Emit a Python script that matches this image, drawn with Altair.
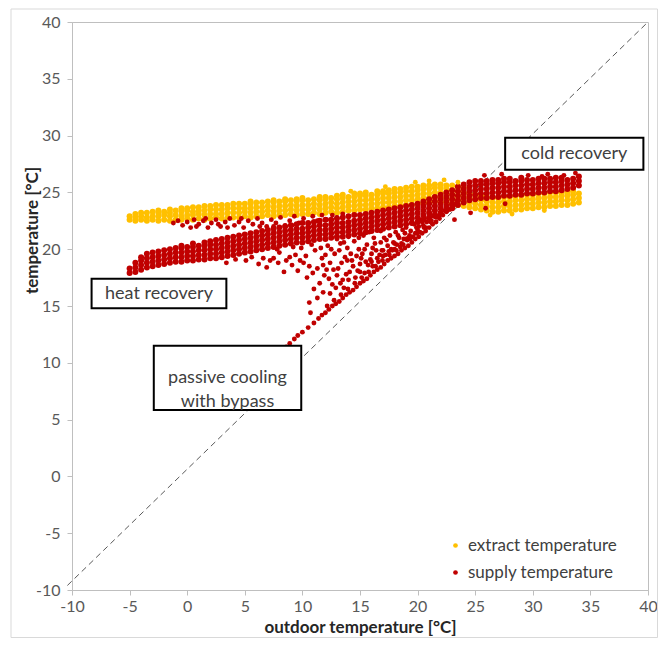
import altair as alt
import pandas as pd

# ---------------- data ----------------
series_names = ["extract temperature", "supply temperature"]
series_colors = ["#FFC000", "#C00000"]

# extract temperature, dense band: [outdoor x, y values in that column...]
extract_rows = [
    [-5.0, 22.6, 22.9], [-4.5, 22.5, 22.8, 23.1], [-4.0, 22.6, 22.9, 23.2],
    [-3.5, 22.5, 22.8, 23.2], [-3.0, 22.6, 22.9, 23.3], [-2.5, 22.5, 22.9, 23.2, 23.4],
    [-2.0, 22.6, 23.0, 23.3], [-1.5, 22.5, 22.9, 23.2, 23.5], [-1.0, 22.6, 23.0, 23.4],
    [-0.5, 22.6, 22.9, 23.3, 23.6], [0.0, 22.7, 23.0, 23.4, 23.6], [0.5, 22.6, 23.0, 23.3, 23.7],
    [1.0, 22.7, 23.1, 23.4, 23.7], [1.5, 22.6, 23.0, 23.4, 23.8], [2.0, 22.7, 23.1, 23.5, 23.8],
    [2.5, 22.8, 23.1, 23.5, 23.9], [3.0, 22.7, 23.1, 23.5, 23.9], [3.5, 22.8, 23.2, 23.6, 23.9],
    [4.0, 22.8, 23.2, 23.6, 24.0], [4.5, 22.8, 23.2, 23.6, 24.0], [5.0, 22.9, 23.3, 23.6, 24.0],
    [5.5, 22.8, 23.2, 23.6, 24.0, 24.2], [6.0, 22.9, 23.3, 23.7, 24.1], [6.5, 22.9, 23.3, 23.7, 24.1],
    [7.0, 23.0, 23.4, 23.8, 24.2], [7.5, 22.9, 23.3, 23.7, 24.1, 24.3], [8.0, 23.0, 23.4, 23.8, 24.2],
    [8.5, 23.0, 23.4, 23.8, 24.2, 24.4], [9.0, 23.1, 23.5, 23.9, 24.3], [9.5, 23.0, 23.4, 23.8, 24.2, 24.4],
    [10.0, 23.1, 23.5, 23.9, 24.3, 24.5], [10.5, 23.1, 23.5, 23.9, 24.3], [11.0, 23.2, 23.6, 24.0, 24.4],
    [11.5, 23.1, 23.5, 23.9, 24.3, 24.6], [12.0, 23.2, 23.6, 24.0, 24.4, 24.6], [12.5, 23.3, 23.7, 24.1, 24.5],
    [13.0, 23.2, 23.6, 24.0, 24.4, 24.7], [13.5, 23.3, 23.7, 24.1, 24.5, 24.8], [14.0, 23.4, 23.8, 24.2, 24.6],
    [14.5, 23.4, 23.8, 24.2, 24.6, 24.9], [15.0, 23.5, 23.9, 24.3, 24.7, 24.9], [15.5, 23.5, 23.9, 24.3, 24.7, 25.0],
    [16.0, 23.6, 24.0, 24.4, 24.8], [16.5, 23.6, 24.0, 24.4, 24.8, 25.1], [17.0, 23.7, 24.1, 24.5, 24.9, 25.1],
    [17.5, 23.7, 24.1, 24.5, 24.9, 25.2], [18.0, 23.8, 24.2, 24.6, 25.0, 25.3], [18.5, 23.8, 24.2, 24.6, 25.0, 25.3],
    [19.0, 23.9, 24.3, 24.7, 25.1, 25.4], [19.5, 23.9, 24.3, 24.7, 25.1, 25.5], [20.0, 24.0, 24.4, 24.8, 25.2, 25.5],
    [20.5, 24.1, 24.5, 24.9, 25.3, 25.6], [21.0, 24.1, 24.5, 24.9, 25.3, 25.6], [21.5, 24.2, 24.6, 25.0, 25.4, 25.7],
    [22.0, 24.2, 24.6, 25.0, 25.4, 25.7], [22.5, 24.1, 24.5, 24.9, 25.3, 25.6], [23.0, 24.0, 24.4, 24.8, 25.2, 25.6],
    [23.5, 23.9, 24.3, 24.7, 25.1, 25.5], [24.0, 23.8, 24.2, 24.6, 25.0, 25.4], [24.5, 23.7, 24.1, 24.5, 24.9],
    [25.0, 23.6, 24.0, 24.4, 24.8], [25.5, 23.5, 23.9, 24.3, 24.7], [26.0, 23.4, 23.8, 24.2, 24.6],
    [26.5, 23.3, 23.7, 24.1, 24.5], [27.0, 23.3, 23.7, 24.1, 24.5], [27.5, 23.4, 23.8, 24.2, 24.6],
    [28.0, 23.4, 23.8, 24.2, 24.6], [28.5, 23.5, 23.9, 24.3, 24.7], [29.0, 23.5, 23.9, 24.3, 24.7],
    [29.5, 23.6, 24.0, 24.4, 24.8], [30.0, 23.6, 24.0, 24.4, 24.8], [30.5, 23.7, 24.1, 24.5, 24.9],
    [31.0, 23.7, 24.1, 24.5, 24.9], [31.5, 23.8, 24.2, 24.6, 25.0], [32.0, 23.8, 24.2, 24.6, 25.0],
    [32.5, 23.9, 24.3, 24.7, 25.0], [33.0, 23.9, 24.3, 24.7, 25.0], [33.5, 24.0, 24.4, 24.8, 25.1],
    [34.0, 24.1, 24.5, 24.9],
]
extract_extra = [(14.2, 25.1), (17.2, 25.5), (19.8, 25.9), (21.0, 26.0), (22.3, 26.1),
                 (23.5, 25.9), (26.3, 23.0), (28.2, 23.1), (31.0, 23.4)]

# supply temperature, dense main band: [outdoor x, y values...]
supply_rows = [
    [-5.0, 17.9, 18.3], [-4.5, 18.0, 18.4, 18.8], [-4.0, 18.2, 18.6, 19.0, 19.3],
    [-3.5, 18.4, 18.8, 19.2, 19.6], [-3.0, 18.5, 18.9, 19.3, 19.7], [-2.5, 18.6, 19.0, 19.4, 19.8],
    [-2.0, 18.7, 19.1, 19.5, 19.9], [-1.5, 18.8, 19.2, 19.6, 20.0], [-1.0, 18.9, 19.3, 19.7, 20.1],
    [-0.5, 18.9, 19.3, 19.7, 20.1, 20.3], [0.0, 19.0, 19.4, 19.8, 20.2], [0.5, 19.0, 19.4, 19.8, 20.2, 20.5],
    [1.0, 19.1, 19.5, 19.9, 20.3], [1.5, 19.1, 19.5, 19.9, 20.3, 20.6], [2.0, 19.2, 19.6, 20.0, 20.4, 20.7],
    [2.5, 19.2, 19.6, 20.0, 20.4, 20.8], [3.0, 19.3, 19.7, 20.1, 20.5, 20.9], [3.5, 19.4, 19.8, 20.2, 20.6, 21.0],
    [4.0, 19.5, 19.9, 20.3, 20.7, 21.1], [4.5, 19.6, 20.0, 20.4, 20.8, 21.2], [5.0, 19.7, 20.1, 20.5, 20.9, 21.3],
    [5.5, 19.8, 20.2, 20.6, 21.0, 21.4], [6.0, 19.9, 20.3, 20.7, 21.1, 21.5], [6.5, 20.0, 20.4, 20.8, 21.2, 21.6],
    [7.0, 20.1, 20.5, 20.9, 21.3, 21.7], [7.5, 20.2, 20.6, 21.0, 21.4, 21.8], [8.0, 20.3, 20.7, 21.1, 21.5, 21.9],
    [8.5, 20.4, 20.8, 21.2, 21.6, 22.0], [9.0, 20.5, 20.9, 21.3, 21.7, 22.1], [9.5, 20.6, 21.0, 21.4, 21.8, 22.2],
    [10.0, 20.6, 21.0, 21.4, 21.8, 22.3], [10.5, 20.7, 21.1, 21.5, 21.9, 22.3], [11.0, 20.8, 21.2, 21.6, 22.0, 22.4],
    [11.5, 20.9, 21.3, 21.7, 22.1, 22.5], [12.0, 20.9, 21.3, 21.7, 22.1, 22.6], [12.5, 21.0, 21.4, 21.8, 22.2, 22.6],
    [13.0, 21.1, 21.5, 21.9, 22.3, 22.7], [13.5, 21.1, 21.5, 21.9, 22.3, 22.8], [14.0, 21.2, 21.6, 22.0, 22.4, 22.9],
    [14.5, 21.3, 21.7, 22.1, 22.5, 23.0], [15.0, 21.4, 21.8, 22.2, 22.6, 23.0], [15.5, 21.5, 21.9, 22.3, 22.7, 23.1],
    [16.0, 21.6, 22.0, 22.4, 22.8, 23.2], [16.5, 21.7, 22.1, 22.5, 22.9, 23.3], [17.0, 21.8, 22.2, 22.6, 23.0, 23.4],
    [17.5, 21.9, 22.3, 22.7, 23.1, 23.5], [18.0, 22.0, 22.4, 22.8, 23.2, 23.6], [18.5, 22.1, 22.5, 22.9, 23.3, 23.7],
    [19.0, 22.2, 22.6, 23.0, 23.4, 23.8], [19.5, 22.3, 22.7, 23.1, 23.5, 23.9], [20.0, 22.4, 22.8, 23.2, 23.6, 24.0],
    [20.5, 22.6, 23.0, 23.4, 23.8, 24.2], [21.0, 22.8, 23.2, 23.6, 24.0, 24.4], [21.5, 23.0, 23.4, 23.8, 24.2, 24.6],
    [22.0, 23.2, 23.6, 24.0, 24.4, 24.8], [22.5, 23.4, 23.8, 24.2, 24.6, 25.0], [23.0, 23.6, 24.0, 24.4, 24.8, 25.2],
    [23.5, 23.9, 24.3, 24.7, 25.1, 25.5], [24.0, 24.1, 24.5, 24.9, 25.3, 25.7], [24.5, 24.3, 24.7, 25.1, 25.5, 25.9],
    [25.0, 24.4, 24.8, 25.2, 25.6, 26.0], [25.5, 24.5, 24.9, 25.3, 25.7, 26.0], [26.0, 24.5, 24.9, 25.3, 25.7, 26.0],
    [26.5, 24.6, 25.0, 25.4, 25.8, 26.1], [27.0, 24.6, 25.0, 25.4, 25.8, 26.1], [27.5, 24.7, 25.1, 25.5, 25.9, 26.2],
    [28.0, 24.7, 25.1, 25.5, 25.9, 26.2], [28.5, 24.8, 25.2, 25.6, 26.0], [29.0, 24.8, 25.2, 25.6, 26.0, 26.3],
    [29.5, 24.9, 25.3, 25.7, 26.1], [30.0, 24.9, 25.3, 25.7, 26.1], [30.5, 25.0, 25.4, 25.8, 26.2],
    [31.0, 25.0, 25.4, 25.8, 26.2], [31.5, 25.1, 25.5, 25.9, 26.2], [32.0, 25.1, 25.5, 25.9, 26.3],
    [32.5, 25.2, 25.6, 26.0, 26.3], [33.0, 25.3, 25.7, 26.1], [33.5, 25.4, 25.8, 26.2],
    [34.0, 25.6, 26.0, 26.4],
]
# supply: thin dotted band just under the extract band
supply_upper = [(-1.2, 22.3), (-0.8, 22.5), (-0.4, 22.1), (0.0, 22.4), (0.3, 21.9), (0.6, 22.6),
                (1.0, 22.2), (1.4, 22.5), (1.8, 21.9), (2.1, 22.3), (2.5, 22.6), (2.9, 22.0),
                (3.3, 22.4), (3.7, 22.7), (4.1, 22.1), (4.5, 22.4), (4.9, 21.9), (5.3, 22.5),
                (5.7, 22.2), (6.1, 22.7), (6.5, 22.3), (6.9, 22.0), (7.3, 22.6), (7.7, 22.3),
                (8.1, 22.8), (8.5, 22.1), (8.9, 22.5), (9.3, 22.9), (9.7, 22.3), (10.1, 22.7),
                (10.5, 22.2), (10.9, 22.9), (11.3, 22.5), (11.7, 23.0), (12.1, 22.6), (12.6, 23.0),
                (13.0, 22.8), (13.5, 23.1), (0.8, 22.0), (1.6, 22.7), (2.7, 22.2), (3.5, 21.9),
                (4.7, 22.7), (6.3, 22.0), (7.5, 22.0), (9.1, 22.1)]
# supply: scattered points between main band and bypass line
supply_scatter = [(3.4, 18.8), (5.1, 19.0), (6.2, 18.7), (6.9, 18.4), (7.5, 19.2), (8.0, 19.7),
                  (8.4, 18.0), (8.9, 19.3), (9.4, 19.5), (9.6, 18.1), (9.9, 20.1), (10.1, 18.8),
                  (10.4, 17.5), (10.6, 15.3), (10.7, 14.4), (11.0, 16.5), (11.1, 19.9), (11.3, 18.3),
                  (11.7, 19.2), (11.9, 17.7), (12.2, 20.3), (12.4, 18.8), (12.6, 16.9), (12.8, 19.6),
                  (13.1, 18.3), (13.3, 20.5), (13.5, 17.3), (13.7, 19.3), (13.9, 20.1), (14.1, 18.0),
                  (14.3, 19.0), (14.5, 20.7), (14.6, 17.5), (14.9, 20.0), (15.0, 18.7), (15.2, 19.6),
                  (15.4, 17.9), (15.6, 20.4), (15.9, 19.1), (16.1, 18.5), (16.2, 21.0), (16.4, 19.9),
                  (16.6, 18.9), (16.8, 20.6), (17.0, 19.4), (17.2, 19.5), (17.4, 20.3), (17.6, 21.2),
                  (17.8, 19.9), (18.0, 20.0), (18.2, 20.4), (18.4, 21.0), (18.6, 20.5), (18.9, 21.4),
                  (19.1, 20.8), (19.4, 21.6), (19.6, 21.1), (19.9, 21.9), (20.2, 21.5), (20.5, 22.1),
                  (20.8, 22.4), (21.2, 22.5), (21.6, 22.8), (10.8, 20.4), (9.2, 20.2), (7.8, 20.0),
                  (13.0, 20.9), (14.0, 21.1), (15.3, 21.2), (16.8, 21.6),
                  (7.2, 19.0), (7.9, 18.8), (8.6, 19.0), (9.1, 18.6), (9.8, 19.0), (10.3, 19.4),
                  (10.6, 18.5), (10.9, 17.9), (11.5, 17.0), (11.8, 18.6), (12.0, 19.5), (12.3, 17.4),
                  (12.7, 18.2), (13.0, 17.7), (13.4, 18.8), (13.6, 16.6), (13.8, 17.8), (14.2, 19.6),
                  (14.4, 18.5), (14.8, 18.1), (15.1, 19.2), (15.4, 20.0), (15.7, 18.6), (16.0, 19.6),
                  (16.3, 20.5), (16.5, 19.2), (16.9, 19.9), (17.3, 20.8), (17.5, 19.8), (17.9, 20.6),
                  (18.1, 21.5), (18.5, 20.2), (18.8, 20.9), (19.0, 21.9), (19.3, 21.2), (19.7, 22.2),
                  (20.0, 21.7), (20.4, 22.4), (20.7, 21.9), (21.0, 22.7), (21.4, 22.9), (21.9, 23.0),
                  (4.2, 19.1), (5.6, 19.3), (6.6, 19.2),
                  (12.5, 20.0), (13.2, 19.9), (13.9, 19.0), (14.7, 19.4), (15.5, 18.9), (16.1, 20.1),
                  (16.7, 19.5), (17.1, 21.0), (17.7, 20.0), (18.3, 21.2), (18.7, 21.7), (19.2, 21.0),
                  (19.5, 22.3), (19.8, 21.4), (20.3, 22.6), (20.6, 22.7), (21.1, 23.1), (15.8, 21.5),
                  (14.9, 21.0), (13.6, 20.6), (12.1, 18.2), (11.6, 20.1), (11.3, 15.7), (11.8, 16.2),
                  (12.4, 16.1), (12.9, 16.6), (13.3, 17.0), (14.0, 17.3), (15.0, 18.0), (16.0, 18.9),
                  (17.0, 19.9), (18.0, 20.5), (19.0, 20.9), (20.1, 22.0)]
# supply: passive cooling with bypass (close to the 1:1 line)
supply_bypass = [(8.6, 11.4), (8.9, 11.7), (9.3, 12.1), (9.6, 12.4), (10.0, 12.7), (10.5, 13.1),
                 (11.0, 13.5), (11.4, 13.9), (11.7, 14.2), (12.0, 14.4), (12.3, 14.7), (12.6, 15.0),
                 (12.9, 15.2), (13.2, 15.4), (13.5, 15.7), (13.8, 16.0), (14.1, 16.2), (14.4, 16.4),
                 (14.7, 16.7), (15.0, 17.0), (15.3, 17.2), (15.6, 17.4), (15.9, 17.7), (16.2, 18.0),
                 (16.5, 18.2), (16.8, 18.4), (17.1, 18.7), (17.4, 19.0), (17.7, 19.2), (18.0, 19.4),
                 (18.3, 19.6), (18.6, 19.9), (18.9, 20.1), (19.2, 20.3), (19.5, 20.6), (19.8, 20.9),
                 (20.1, 21.1), (20.4, 21.4), (20.7, 21.6), (21.0, 21.9), (21.3, 22.2), (21.6, 22.4),
                 (21.9, 22.7), (22.2, 23.0), (22.5, 23.3), (22.8, 23.5), (23.1, 23.8), (23.4, 24.1),
                 (12.15, 15.0), (12.75, 15.5), (13.35, 16.0), (13.95, 16.5), (14.55, 17.0),
                 (15.15, 17.5), (15.75, 18.0), (16.35, 18.5), (16.95, 19.0), (17.55, 19.5),
                 (18.15, 19.9), (18.75, 20.4), (19.35, 20.9), (19.95, 21.4), (20.55, 21.9),
                 (21.15, 22.4), (21.75, 22.9), (22.35, 23.4), (22.95, 23.9)]
supply_extra = [(25.8, 26.5), (27.3, 26.6), (29.6, 26.5), (31.3, 26.6), (33.7, 26.7), (30.8, 26.4),
                (32.7, 26.5), (24.6, 23.2), (25.9, 23.6), (27.6, 24.0), (23.2, 22.6)]

# dashed 1:1 reference line
diag_x = [-10.4, 40.0]
diag_y = [-9.6, 40.0]

axis_ticks = [-10, -5, 0, 5, 10, 15, 20, 25, 30, 35, 40]

# annotation boxes (in axis units)
box_labels = ["cold recovery", "heat recovery", "passive cooling\nwith bypass"]
box_x1 = [27.6, -8.3, -2.9]
box_x2 = [39.6, 3.4, 9.9]
box_y1 = [29.8, 17.4, 11.5]
box_y2 = [27.0, 14.8, 5.85]

# ---------------- build tables ----------------
dense, sparse = [], []
for row in extract_rows:
    for yv in row[1:]:
        dense.append({"x": row[0], "y": yv, "series": series_names[0]})
for row in supply_rows:
    for yv in row[1:]:
        dense.append({"x": row[0], "y": yv, "series": series_names[1]})
for xv, yv in extract_extra:
    sparse.append({"x": xv, "y": yv, "series": series_names[0]})
for group in (supply_upper, supply_scatter, supply_bypass, supply_extra):
    for xv, yv in group:
        sparse.append({"x": xv, "y": yv, "series": series_names[1]})
dense_df = pd.DataFrame(dense)
sparse_df = pd.DataFrame(sparse)

diag = pd.DataFrame({"x": diag_x, "y": diag_y})
boxes = pd.DataFrame({"label": box_labels, "x": box_x1, "x2": box_x2, "y": box_y1, "y2": box_y2})
boxes["cx"] = (boxes["x"] + boxes["x2"]) / 2
boxes["cy"] = (boxes["y"] + boxes["y2"]) / 2

FONT = "Lato"
xscale = alt.Scale(domain=[-10, 40], nice=False, zero=False)
yscale = alt.Scale(domain=[-10, 40], nice=False, zero=False)

xaxis = alt.Axis(values=axis_ticks, title="outdoor temperature [°C]", grid=False,
                 domainColor="#bfbfbf", tickColor="#bfbfbf", tickSize=5,
                 labelFont=FONT, labelFontSize=16, labelColor="#595959", labelPadding=3,
                 labelFlush=False, labelOverlap=False, labelExpr="'' + datum.value",
                 titleFont=FONT, titleFontSize=17, titleFontWeight="bold", titleColor="#262626",
                 titleY=37, titleBaseline="middle")
yaxis = alt.Axis(values=axis_ticks, title="temperature [°C]", grid=False,
                 domainColor="#bfbfbf", tickColor="#bfbfbf", tickSize=5,
                 labelFont=FONT, labelFontSize=16, labelColor="#595959", labelPadding=7,
                 labelFlush=False, labelOverlap=False, labelExpr="'' + datum.value",
                 titleFont=FONT, titleFontSize=17, titleFontWeight="bold", titleColor="#262626",
                 titleX=-40, titleY=208, titleAngle=270, titleAlign="center", titleBaseline="middle")

color_enc = alt.Color("series:N", sort=series_names,
                      scale=alt.Scale(domain=series_names, range=series_colors),
                      legend=alt.Legend(title=None, orient="none", legendX=375, legendY=515,
                                        symbolType="circle", symbolSize=22, symbolStrokeWidth=0,
                                        labelFont=FONT, labelFontSize=17, labelColor="#404040",
                                        labelOffset=4, rowPadding=9))
X = alt.X("x:Q", scale=xscale, axis=xaxis)
Y = alt.Y("y:Q", scale=yscale, axis=yaxis)

frame = alt.Chart(pd.DataFrame({"a": [0]})).mark_rect(
    filled=False, stroke="#d9d9d9", strokeWidth=1, clip=False
).encode(x=alt.value(-61), x2=alt.value(585.5), y=alt.value(-13), y2=alt.value(615.5))

diag_line = alt.Chart(diag).mark_line(
    color="#595959", strokeDash=[6, 4], strokeWidth=1, clip=False
).encode(x=X, y=Y)

dots_dense = alt.Chart(dense_df).mark_circle(size=36, opacity=1).encode(x=X, y=Y, color=color_enc)
dots_sparse = alt.Chart(sparse_df).mark_circle(size=24, opacity=1).encode(x=X, y=Y, color=color_enc)

rects = alt.Chart(boxes).mark_rect(fill="white", stroke="black", strokeWidth=2).encode(
    x=X, x2="x2:Q", y=Y, y2="y2:Q",
)

labels = alt.Chart(boxes).mark_text(
    font=FONT, fontSize=18, color="#404040", lineBreak="\n", lineHeight=24,
    align="center", baseline="middle"
).encode(
    x=alt.X("cx:Q", scale=xscale, axis=xaxis),
    y=alt.Y("cy:Q", scale=yscale, axis=yaxis),
    text="label:N",
)

chart = alt.layer(frame, diag_line, dots_dense, dots_sparse, rects, labels).properties(
    width=576, height=568,
    padding={"left": 64, "top": 14, "right": 10, "bottom": 48},
    autosize=alt.AutoSizeParams(type="none"),
).configure_view(stroke="#bfbfbf", strokeWidth=1)

chart.save("out.html", embed_options={"renderer": "svg", "actions": False})
